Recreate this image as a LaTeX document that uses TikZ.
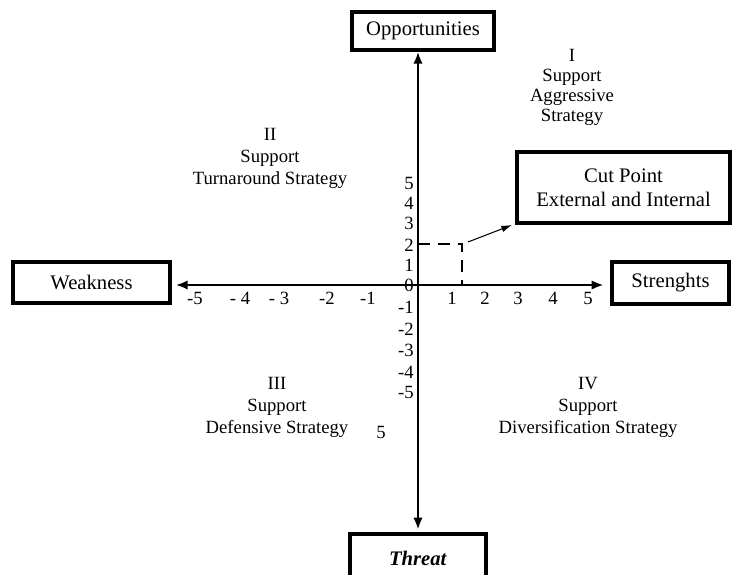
\documentclass[tikz,border=0pt]{standalone}
\usepackage{fontspec}
\setmainfont{Liberation Serif}
\usetikzlibrary{arrows.meta}
\begin{document}
\begin{tikzpicture}[x=0.75pt,y=-0.75pt,
  every node/.style={font=\fontsize{14}{16}\selectfont, inner sep=0pt},
  lbl/.style={align=center, font=\fontsize{14}{16.5}\selectfont},
  tick/.style={font=\fontsize{14}{16}\selectfont},
  bx/.style={draw, line width=2.4pt, fill=white, font=\fontsize{15.5}{18}\selectfont},
  axis/.style={line width=2.1pt, {Latex[length=9pt,width=7pt]}-{Latex[length=9pt,width=7pt]}},
  dsh/.style={line width=2pt, dash pattern=on 9pt off 6pt},
  thinarrow/.style={line width=0.8pt, -{Latex[length=8pt,width=5pt]}}]
\useasboundingbox (0,0) rectangle (734,574);
\clip (0,0) rectangle (734,574);
\fill[white] (0,0) rectangle (734,574);

% boxes
\node[bx, minimum width=106.5pt, minimum height=28.5pt] (opp) at (423,31) {Opportunities};
\node[bx, minimum width=102pt, minimum height=36pt] (thr) at (418,558) {\textbf{\textit{Threat}}};
\node[bx, minimum width=117.75pt, minimum height=30.75pt] (weak) at (91.5,282.5) {Weakness};
\node[bx, minimum width=87.75pt, minimum height=31.5pt] (str) at (670.5,283) {Strenghts};
\node[bx, minimum width=159.75pt, minimum height=53.25pt, align=center,
  font=\fontsize{15.5}{18}\selectfont] (cut) at (623.5,187.5) {Cut Point\\External and Internal};

% axes
\coordinate (o) at (418,285);
\draw[axis, shorten <=2pt, shorten >=0pt] (thr.north -| o) -- (opp.south -| o);
\draw[axis, shorten <=3pt, shorten >=5pt] (weak.east |- o) -- (str.west |- o);

% y ticks
\foreach \v/\y in {5/183,4/203,3/223,2/245,1/265,0/285,-1/307,-2/329,-3/350,-4/372,-5/392}
  \node[tick, anchor=east] (yt\v) at (414,\y) {\v};
% x ticks
\foreach \t/\x/\n in {-5/195/a,{- 4}/240/b,{- 3}/279/c,-2/327/d,-1/368/e,1/452/f,2/485/g,3/518/h,4/553/i,5/588/j}
  \node[tick] (xt\n) at (\x,298) {\t};

% cut point
\coordinate (c1) at (418,244);
\coordinate (c2) at (462,244);
\coordinate (c3) at (462,285);
\draw[dsh] (c1) -- (c2) -- (c3);
\coordinate (a0) at (468,242);
\coordinate (a1) at (512,225);
\draw[thinarrow] (a0) -- (a1);

% quadrant labels
\node[lbl, font=\fontsize{14}{15}\selectfont] (q1) at (572,87) {I\\Support\\Aggressive\\Strategy};
\node[lbl] (q2) at (270,158) {II\\Support\\Turnaround Strategy};
\node[lbl] (q3) at (277,407) {III\\Support\\Defensive Strategy};
\node[lbl] (q4) at (588,407) {IV\\Support\\Diversification Strategy};
\node[tick] (stray) at (381,432) {5};
\end{tikzpicture}
\end{document}
